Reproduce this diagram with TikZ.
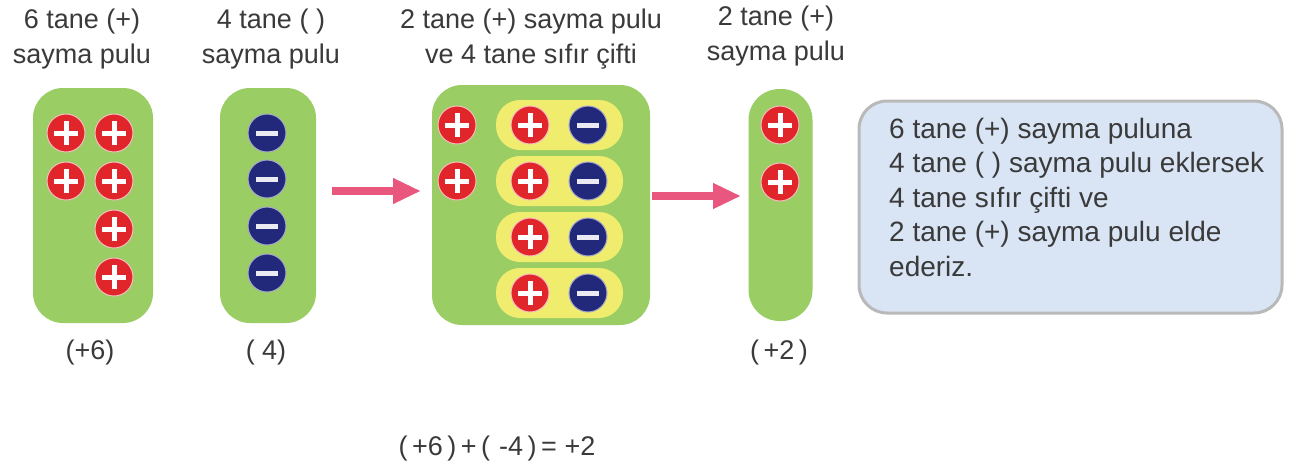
\documentclass[tikz,border=0pt]{standalone}
\usepackage{fontspec}
\setmainfont{Liberation Sans}
\usetikzlibrary{arrows.meta}
\definecolor{pgreen}{HTML}{9ACD63}
\definecolor{pyellow}{HTML}{F0EC6E}
\definecolor{pred}{HTML}{E0262A}
\definecolor{pblue}{HTML}{23297A}
\definecolor{parrow}{HTML}{E9577F}
\definecolor{pbox}{HTML}{D9E4F4}
\definecolor{ptext}{HTML}{3A3A3A}
\tikzset{
  x=1pt, y=-1pt,
  tray/.style={fill=pgreen, rounded corners=30pt, inner sep=0pt},
  pill/.style={fill=pyellow, rounded corners=24pt, minimum width=127pt, minimum height=50pt, inner sep=0pt},
  chip/.style={circle, minimum size=38pt, inner sep=0pt, draw=white!70!pred, line width=1pt},
  poschip/.style={chip, fill=pred, path picture={
      \draw[white, line width=5pt]
        ([xshift=-12pt]path picture bounding box.center) -- ([xshift=12pt]path picture bounding box.center)
        ([yshift=-12pt]path picture bounding box.center) -- ([yshift=12pt]path picture bounding box.center);}},
  negchip/.style={chip, fill=pblue, draw=white!60!pblue, path picture={
      \draw[white!90!pblue, line width=5pt]
        ([xshift=-11pt]path picture bounding box.center) -- ([xshift=11pt]path picture bounding box.center);}},
  lbl/.style={text=ptext, font=\fontsize{27}{35}\selectfont, align=center, inner sep=0pt},
  arr/.style={draw=parrow, line width=8pt, -{Triangle[length=28pt,width=24pt]}},
}
\begin{document}
\begin{tikzpicture}
\useasboundingbox (0,0) rectangle (1297,469);
\fill[white] (0,0) rectangle (1297,469);

% titles
\node[lbl] (t1) at (82,39) {6 tane (+)\\sayma pulu};
\node[lbl] (t2) at (271,39) {4 tane ( )\\sayma pulu};
\node[lbl] (t3) at (531,39) {2 tane (+) sayma pulu\\ve 4 tane sıfır çifti};
\node[lbl] (t4) at (776,36) {2 tane (+)\\sayma pulu};

% trays
\node[tray, minimum width=120pt, minimum height=235pt] (b1) at (93,205.5) {};
\node[tray, minimum width=96pt, minimum height=235pt] (b2) at (268,205.5) {};
\node[tray, minimum width=218pt, minimum height=240pt] (b3) at (541,205) {};
\node[tray, minimum width=64pt, minimum height=232pt, rounded corners=31pt] (b4) at (780.5,205) {};

% box 1 chips
\node[poschip] (p11) at (66,133) {};
\node[poschip] (p12) at (114,133) {};
\node[poschip] (p13) at (66,181) {};
\node[poschip] (p14) at (114,181) {};
\node[poschip] (p15) at (114,229) {};
\node[poschip] (p16) at (114,277) {};

% box 2 chips
\node[negchip] (n21) at (267,133) {};
\node[negchip] (n22) at (267,179) {};
\node[negchip] (n23) at (267,226) {};
\node[negchip] (n24) at (267,273) {};

% box 3
\node[pill] (y1) at (559.5,125) {};
\node[pill] (y2) at (559.5,181) {};
\node[pill] (y3) at (559.5,237) {};
\node[pill] (y4) at (559.5,293) {};
\node[poschip] (p31) at (457,125) {};
\node[poschip] (p32) at (457,181) {};
\node[poschip] (q1) at (530,125) {};
\node[negchip] (m1) at (588,125) {};
\node[poschip] (q2) at (530,181) {};
\node[negchip] (m2) at (588,181) {};
\node[poschip] (q3) at (530,237) {};
\node[negchip] (m3) at (588,237) {};
\node[poschip] (q4) at (530,293) {};
\node[negchip] (m4) at (588,293) {};

% box 4
\node[poschip] (p41) at (780,125) {};
\node[poschip] (p42) at (780,182) {};

% arrows
\coordinate (a1s) at (332,191);
\coordinate (a1e) at (421,191);
\coordinate (a2s) at (652,196);
\coordinate (a2e) at (741,196);
\draw[arr] (a1s) -- (a1e);
\draw[arr] (a2s) -- (a2e);

% bottom labels
\node[lbl] (v1) at (90,353) {(+6)};
\node[lbl] (v2) at (266,353) {( 4)};
\node[lbl] (v4) at (779,353) {(\,+2\,)};
\node[lbl] (eq) at (497,449) {(\,+6\,)\,+\,(\,\,-4\,)\,=\;+2};

% explanation box
\node[draw=gray!55, line width=3pt, fill=pbox, rounded corners=28pt,
      minimum width=423pt, minimum height=212pt, inner sep=0pt] (tb) at (1070.5,207) {};
\node[lbl, align=left, anchor=north west, font=\fontsize{28}{34.5}\selectfont] (tx) at (889,118)
  {6 tane (+) sayma puluna\\4 tane ( ) sayma pulu eklersek\\4 tane sıfır çifti ve\\2 tane (+) sayma pulu elde\\ederiz.};
\end{tikzpicture}
\end{document}
